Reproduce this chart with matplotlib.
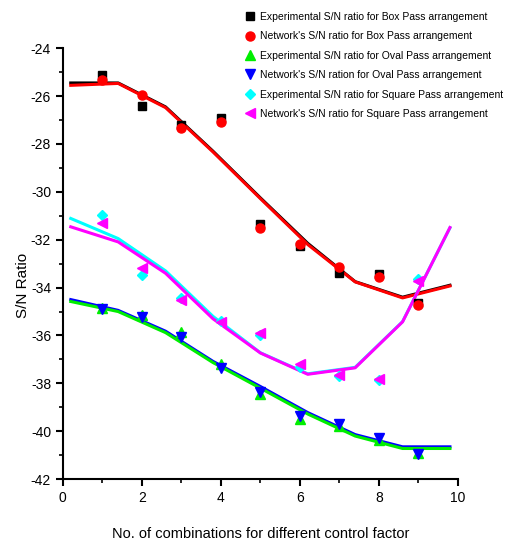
import matplotlib
matplotlib.use("Agg")
import matplotlib.pyplot as plt
from matplotlib.ticker import MultipleLocator

plt.rcParams['font.family'] = ['Liberation Sans', 'DejaVu Sans']
plt.rcParams['axes.unicode_minus'] = False

# experiment numbers
runs = [1, 2, 3, 4, 5, 6, 7, 8, 9]

box_exp = [-25.1, -26.42, -27.2, -26.9, -31.33, -32.27, -33.38, -33.45, -34.65]
box_net = [-25.34, -25.96, -27.33, -27.1, -31.53, -32.19, -33.13, -33.55, -34.73]
oval_exp = [-34.85, -35.15, -35.85, -37.2, -38.45, -39.5, -39.8, -40.35, -40.9]
oval_net = [-34.91, -35.22, -36.06, -37.34, -38.36, -39.36, -39.68, -40.28, -40.97]
sq_exp = [-30.98, -33.48, -34.45, -35.4, -36.0, -37.3, -37.7, -37.85, -33.65]
sq_net = [-31.32, -33.2, -34.5, -35.43, -35.89, -37.21, -37.63, -37.8, -33.72]

# fitted curves
fit_x = [0.2, 1.4, 2.6, 3.8, 5.0, 6.2, 7.4, 8.6, 9.8]
box_exp_fit = [-25.45, -25.45, -26.45, -28.3, -30.25, -32.15, -33.75, -34.4, -33.9]
box_net_fit = [-25.55, -25.47, -26.48, -28.33, -30.28, -32.2, -33.76, -34.43, -33.93]
oval_exp_fit = [-34.58, -35.0, -35.88, -37.13, -38.2, -39.28, -40.2, -40.72, -40.72]
oval_net_fit = [-34.5, -34.95, -35.82, -37.08, -38.13, -39.22, -40.14, -40.65, -40.65]
sq_exp_fit = [-31.11, -31.95, -33.3, -35.2, -36.72, -37.6, -37.33, -35.42, -31.5]
sq_net_fit = [-31.46, -32.09, -33.4, -35.3, -36.73, -37.62, -37.35, -35.43, -31.49]

labels = [
    "Experimental S/N ratio for Box Pass arrangement",
    "Network's S/N ratio for Box Pass arrangement",
    "Experimental S/N ratio for Oval Pass arrangement",
    "Network's S/N ration for Oval Pass arrangement",
    "Experimental S/N ratio for Square Pass arrangement",
    "Network's S/N ratio for Square Pass arrangement",
]

fig = plt.figure(figsize=(5.11, 5.42), dpi=100)
ax = fig.add_axes([0.123, 0.116, 0.773, 0.795])

# lines
ax.plot(fit_x, box_exp_fit, color='black', lw=2.2)
ax.plot(fit_x, box_net_fit, color='red', lw=2.2)
ax.plot(fit_x, oval_net_fit, color='blue', lw=2.2)
ax.plot(fit_x, oval_exp_fit, color='#00ee00', lw=2.2)
ax.plot(fit_x, sq_exp_fit, color='cyan', lw=2.2)
ax.plot(fit_x, sq_net_fit, color='magenta', lw=2.2)

# points
ms = 5.5
ax.plot(runs, box_exp, 's', color='black', ms=ms, ls='none', label=labels[0])
ax.plot(runs, box_net, 'o', color='red', ms=ms + 1, ls='none', label=labels[1])
ax.plot(runs, oval_exp, '^', color='#00ee00', ms=ms + 1, ls='none', label=labels[2])
ax.plot(runs, oval_net, 'v', color='blue', ms=ms + 1, ls='none', label=labels[3])
ax.plot(runs, sq_exp, 'D', color='cyan', ms=ms, ls='none', label=labels[4])
ax.plot(runs, sq_net, '<', color='magenta', ms=ms + 1, ls='none', label=labels[5])

ax.set_xlim(0, 10)
ax.set_ylim(-42, -24)
ax.spines['top'].set_visible(False)
ax.spines['right'].set_visible(False)
ax.spines['left'].set_linewidth(1.5)
ax.spines['bottom'].set_linewidth(1.5)
ax.xaxis.set_major_locator(MultipleLocator(2))
ax.xaxis.set_minor_locator(MultipleLocator(1))
ax.yaxis.set_major_locator(MultipleLocator(2))
ax.yaxis.set_minor_locator(MultipleLocator(1))
ax.tick_params(which='major', direction='out', length=5, width=1.5, labelsize=10)
ax.tick_params(which='minor', direction='out', length=3, width=1.2)

ax.set_xlabel("No. of combinations for different control factor", fontsize=10.5, labelpad=16)
ax.set_ylabel("S/N Ratio", fontsize=11, labelpad=4)
ax.yaxis.set_label_coords(-0.083, 0.45)

fig.legend(loc='upper left', bbox_to_anchor=(244 / 511, 1 - 12 / 542), frameon=False,
           fontsize=7.5, handletextpad=0.35, labelspacing=0.9, handlelength=1.2,
           borderpad=0, borderaxespad=0, markerscale=1.0)

fig.savefig("out.png", dpi=100)
